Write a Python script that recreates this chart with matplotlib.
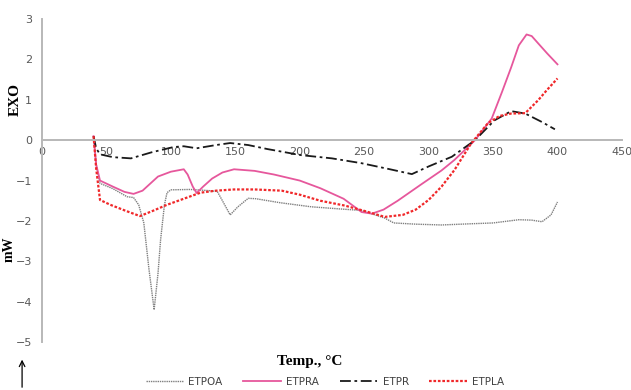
import numpy as np
import matplotlib
matplotlib.use('Agg')
import matplotlib.pyplot as plt

# DSC curves (Temp in C, heat flow in mW)
t_poa = [40, 42, 45, 55, 66, 71, 75, 79, 83, 87, 90, 92, 95, 97, 100, 115, 130, 136, 140, 146, 152, 160, 166, 185,
         209, 230, 248, 266, 273, 290, 310, 333, 350, 370, 380, 388, 395, 400]
y_poa = [0.1, -0.6, -1.07, -1.2, -1.4, -1.42, -1.6, -2.05, -3.2, -4.2, -3.3, -2.47, -1.6, -1.3, -1.23, -1.22, -1.25,
         -1.27, -1.5, -1.85, -1.65, -1.44, -1.45, -1.55, -1.65, -1.7, -1.74, -1.93, -2.05, -2.08, -2.1, -2.07, -2.05,
         -1.97, -1.98, -2.02, -1.85, -1.53]

t_pra = [40, 42, 45, 55, 64, 71, 78, 90, 100, 110, 113, 117, 120, 125, 132, 140, 149, 165, 180, 200, 216, 234,
         248, 256, 265, 276, 294, 310, 320, 336, 349, 357, 364, 370, 376, 380, 385, 392, 400]
y_pra = [0.1, -0.6, -1.0, -1.15, -1.28, -1.33, -1.25, -0.9, -0.78, -0.72, -0.85, -1.15, -1.31, -1.15, -0.95, -0.8,
         -0.72, -0.76, -0.85, -1.0, -1.19, -1.45, -1.78, -1.82, -1.72, -1.5, -1.1, -0.75, -0.49, 0.0, 0.54, 1.2, 1.8,
         2.35, 2.62, 2.58, 2.4, 2.15, 1.88]

t_pr = [40, 42, 45, 55, 69, 85, 102, 110, 120, 135, 146, 160, 175, 201, 225, 248, 270, 287, 300, 318, 336, 351,
        364, 375, 388, 398]
y_pr = [0.1, -0.2, -0.35, -0.42, -0.45, -0.3, -0.17, -0.15, -0.2, -0.12, -0.07, -0.12, -0.22, -0.37, -0.45, -0.57,
        -0.72, -0.84, -0.65, -0.41, 0.0, 0.49, 0.72, 0.66, 0.45, 0.27]

t_pla = [40, 42, 45, 53, 65, 76, 86, 97, 110, 123, 135, 149, 165, 186, 200, 216, 235, 250, 266, 280, 290, 300,
         310, 320, 333, 346, 355, 364, 375, 385, 392, 400]
y_pla = [0.1, -0.7, -1.48, -1.6, -1.75, -1.88, -1.75, -1.6, -1.45, -1.3, -1.25, -1.22, -1.22, -1.25, -1.35, -1.5,
         -1.62, -1.75, -1.9, -1.85, -1.72, -1.48, -1.15, -0.74, -0.08, 0.42, 0.6, 0.66, 0.67, 0.99, 1.25, 1.53]

xticks = [0, 50, 100, 150, 200, 250, 300, 350, 400, 450]
yticks = [-5, -4, -3, -2, -1, 0, 1, 2, 3]

fig = plt.figure(figsize=(6.31, 3.90), dpi=100)
ax = fig.add_axes([0.0666, 0.123, 0.919, 0.828])

ax.plot(t_poa, y_poa, color='#7f7f7f', lw=1.0, ls=(0, (1, 0.6)), label='ETPOA')
ax.plot(t_pra, y_pra, color='#e6579c', lw=1.3, ls='-', label='ETPRA')
ax.plot(t_pr, y_pr, color='#1a1a1a', lw=1.3, ls=(0, (6, 2, 1.5, 2)), label='ETPR')
ax.plot(t_pla, y_pla, color='#f0282a', lw=1.6, ls=(0, (1.2, 0.8)), label='ETPLA')

ax.set_xlim(0, 450)
ax.set_ylim(-5, 3)
ax.set_xticks(xticks)
ax.set_yticks(yticks)
ax.spines['bottom'].set_position(('data', 0))
for s in ['top', 'right']:
    ax.spines[s].set_visible(False)
for s in ['left', 'bottom']:
    ax.spines[s].set_color('#b8b8b8')
    ax.spines[s].set_linewidth(1.4)
ax.tick_params(length=0, colors='#595959', labelsize=8)
ax.tick_params(axis='x', pad=5)
ax.tick_params(axis='y', pad=7)
ax.set_facecolor('white')

fig.text(0.025, 0.745, 'EXO', rotation=90, ha='center', va='center',
         family='Liberation Serif', weight='bold', fontsize=11)
fig.text(0.015, 0.36, 'mW', rotation=90, ha='center', va='center',
         family='Liberation Serif', weight='bold', fontsize=10)
fig.text(0.49, 0.072, 'Temp., \u00b0C', ha='center', va='center',
         family='Liberation Serif', weight='bold', fontsize=11)
ax.annotate('', xy=(0.035, 0.085), xytext=(0.035, 0.0), xycoords='figure fraction',
            arrowprops=dict(arrowstyle='->', color='k', lw=0.9))

ax.legend(loc='center', bbox_to_anchor=(0.515, 0.021), bbox_transform=fig.transFigure,
          ncol=4, frameon=False, fontsize=7.5, handlelength=3.6, handletextpad=0.5,
          columnspacing=2.0, labelcolor='#404040')

fig.savefig('out.png', dpi=100)
